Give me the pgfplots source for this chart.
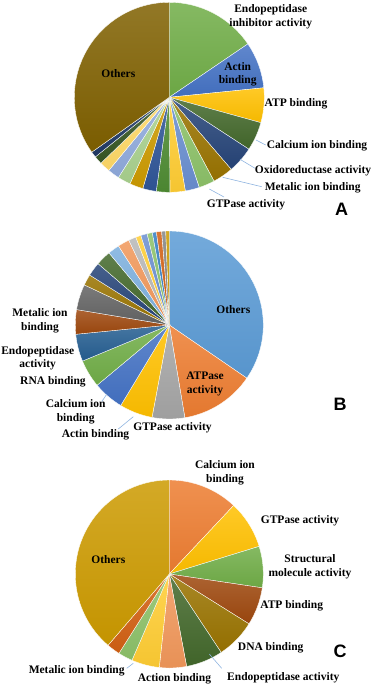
\documentclass[border=0pt]{standalone}
\usepackage{pgfplots}
\pgfplotsset{compat=1.18}
\usepackage{fontspec}
\setmainfont{Liberation Serif}
\setsansfont{Liberation Sans}

% Pie A palette
\definecolor{A1}{HTML}{70AD47}\definecolor{A2}{HTML}{4472C4}\definecolor{A3}{HTML}{FFC000}
\definecolor{A4}{HTML}{43682B}\definecolor{A5}{HTML}{264478}\definecolor{A6}{HTML}{997300}
\definecolor{A7}{HTML}{8CC168}\definecolor{A8}{HTML}{698ED0}\definecolor{A9}{HTML}{FFCD33}
\definecolor{A10}{HTML}{4E8B32}\definecolor{A11}{HTML}{2F5597}\definecolor{A12}{HTML}{CC9A00}
\definecolor{A13}{HTML}{A9D18E}\definecolor{A14}{HTML}{8FAADC}\definecolor{A15}{HTML}{FFD966}
\definecolor{A16}{HTML}{375623}\definecolor{A17}{HTML}{1F3864}\definecolor{A18}{HTML}{7F6000}
% Pie B palette
\definecolor{B1}{HTML}{5B9BD5}\definecolor{B2}{HTML}{ED7D31}\definecolor{B3}{HTML}{A5A5A5}
\definecolor{B4}{HTML}{FFC000}\definecolor{B5}{HTML}{4472C4}\definecolor{B6}{HTML}{70AD47}
\definecolor{B7}{HTML}{255E91}\definecolor{B8}{HTML}{9E480E}\definecolor{B9}{HTML}{636363}
\definecolor{B10}{HTML}{997300}\definecolor{B11}{HTML}{264478}\definecolor{B12}{HTML}{43682B}
\definecolor{B13}{HTML}{7CAFDD}\definecolor{B14}{HTML}{F1975A}\definecolor{B15}{HTML}{B7B7B7}
\definecolor{B16}{HTML}{FFCD33}\definecolor{B17}{HTML}{698ED0}\definecolor{B18}{HTML}{8CC168}
\definecolor{B19}{HTML}{327DC2}\definecolor{B20}{HTML}{D26012}\definecolor{B21}{HTML}{848484}
\definecolor{B22}{HTML}{CC9A00}
% Pie C palette
\definecolor{C1}{HTML}{ED7D31}\definecolor{C2}{HTML}{FFC000}\definecolor{C3}{HTML}{70AD47}
\definecolor{C4}{HTML}{9E480E}\definecolor{C5}{HTML}{997300}\definecolor{C6}{HTML}{43682B}
\definecolor{C7}{HTML}{F1975A}\definecolor{C8}{HTML}{FFCD33}\definecolor{C9}{HTML}{8CC168}
\definecolor{C10}{HTML}{D26012}\definecolor{C11}{HTML}{CC9A00}
\definecolor{leader}{HTML}{8FB4E0}

% pie: center x, center y (axis units), radius (pt), list value/colour
\newcommand{\drawpie}[4]{%
  \pgfplotsextra{%
    \xdef\pietot{0}%
    \foreach \v/\c in {#4}{\pgfmathsetmacro\pietmp{\pietot+\v}\xdef\pietot{\pietmp}}%
    \xdef\piecum{0}%
    \foreach \v/\c in {#4}{%
      \pgfmathsetmacro\pa{90-(\piecum/\pietot)*360}%
      \pgfmathsetmacro\pb{90-((\piecum+\v)/\pietot)*360}%
      \path[top color=\c!85!white, bottom color=\c!96!black, draw=white, line width=0.35pt]
        (axis cs:#1,#2) -- ++(\pa:#3pt) arc[start angle=\pa, end angle=\pb, radius=#3pt] -- cycle;
      \pgfmathsetmacro\pietmp{\piecum+\v}\xdef\piecum{\pietmp}%
    }%
  }%
}

\begin{document}
\begin{tikzpicture}[
  lab/.style={font=\bfseries\fontsize{11.5}{13.6}\selectfont, align=center, text=black, inner sep=0pt},
  letter/.style={font=\sffamily\bfseries\fontsize{18}{20}\selectfont, text=black, inner sep=0pt}]
\begin{axis}[width=374pt, height=685pt, scale only axis,
  xmin=0, xmax=374, ymin=0, ymax=685, y dir=reverse,
  hide axis, clip=false,
  leaderline/.style={color=leader, line width=0.6pt, no marks}]

% ---------- Pie A ----------
\drawpie{169.3}{97.3}{95}{15.5/A1, 7.9/A2, 5.9/A3, 4.9/A4, 4.5/A5, 3.5/A6, 2.7/A7, 2.4/A8, 2.6/A9, 2.3/A10, 2.3/A11, 2.3/A12, 2.2/A13, 2.0/A14, 1.8/A15, 1.4/A16, 1.0/A17, 34.8/A18}
\addplot[leaderline] coordinates {(256,140) (265.7,145)};
\addplot[leaderline] coordinates {(240,159.3) (255,168.3)};
\addplot[leaderline] coordinates {(222.7,177.3) (261.7,186.7)};
\addplot[leaderline] coordinates {(209.3,189) (224,197)};
\node[lab] at (axis cs:270.7,17) {Endopeptidase\\inhibitor activity};
\node[lab] at (axis cs:237.7,74.3) {Actin\\binding};
\node[lab] at (axis cs:296,104) {ATP binding};
\node[lab] at (axis cs:317,145.7) {Calcium ion binding};
\node[lab] at (axis cs:313,170.7) {Oxidoreductase activity};
\node[lab] at (axis cs:312.7,187.3) {Metalic ion binding};
\node[lab] at (axis cs:246,205) {GTPase activity};
\node[lab] at (axis cs:118.3,73.3) {Others};
\node[letter] at (axis cs:341.7,209) {A};

% ---------- Pie B ----------
\drawpie{169.3}{325}{94}{34.6/B1, 12.8/B2, 5.6/B3, 5.7/B4, 5.3/B5, 4.8/B6, 4.7/B7, 4.2/B8, 4.4/B9, 1.9/B10, 2.4/B11, 2.6/B12, 2.0/B13, 2.0/B14, 1.3/B15, 0.9/B16, 1.1/B17, 0.9/B18, 0.7/B19, 0.9/B20, 0.7/B21, 0.6/B22}
\addplot[leaderline] coordinates {(106.7,394.3) (101.7,401.7)};
\addplot[leaderline] coordinates {(133.3,416.7) (118.3,429)};
\node[lab] at (axis cs:233.3,310) {Others};
\node[lab] at (axis cs:205,383.7) {ATPase\\activity};
\node[lab] at (axis cs:172.5,427.3) {GTPase activity};
\node[lab] at (axis cs:95.5,434.3) {Actin binding};
\node[lab] at (axis cs:75.7,411.7) {Calcium ion\\binding};
\node[lab] at (axis cs:53,381.7) {RNA binding};
\node[lab] at (axis cs:37.7,358.3) {Endopeptidase\\activity};
\node[lab] at (axis cs:40,321) {Metalic ion\\binding};
\node[letter] at (axis cs:340,404) {B};

% ---------- Pie C ----------
\drawpie{169.3}{574}{94}{12.0/C1, 8.25/C2, 7.1/C3, 6.55/C4, 6.8/C5, 6.35/C6, 4.65/C7, 4.8/C8, 2.5/C9, 2.3/C10, 38.7/C11}
\addplot[leaderline] coordinates {(209.3,654) (221.7,668.3)};
\addplot[leaderline] coordinates {(133.3,663.3) (126.7,668.3)};
\node[lab] at (axis cs:225,473) {Calcium ion\\binding};
\node[lab] at (axis cs:300,520.7) {GTPase activity};
\node[lab] at (axis cs:310,567) {Structural\\molecule activity};
\node[lab] at (axis cs:291.7,605.7) {ATP binding};
\node[lab] at (axis cs:270.7,647.3) {DNA binding};
\node[lab] at (axis cs:283.3,677.7) {Endopeptidase activity};
\node[lab] at (axis cs:174.5,678.3) {Action binding};
\node[lab] at (axis cs:76.7,671) {Metalic ion binding};
\node[lab] at (axis cs:108.3,559.3) {Others};
\node[letter] at (axis cs:340,651.7) {C};
\end{axis}
\pgfresetboundingbox
\path[use as bounding box] (current axis.south west) rectangle (current axis.north east);
\end{tikzpicture}
\end{document}
